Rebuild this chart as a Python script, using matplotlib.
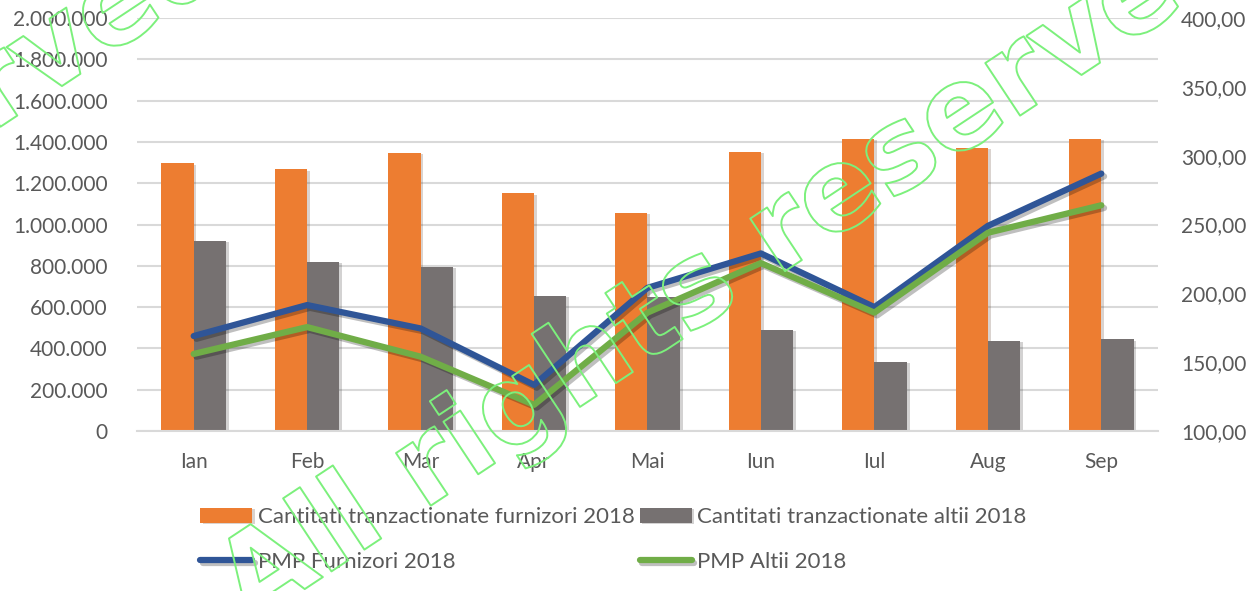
import matplotlib
matplotlib.use('Agg')
import matplotlib.pyplot as plt
import matplotlib.patheffects as pe
from matplotlib.ticker import FuncFormatter, MultipleLocator
import numpy as np

luni = ['Ian', 'Feb', 'Mar', 'Apr', 'Mai', 'Iun', 'Iul', 'Aug', 'Sep']
cant_furnizori = [1296000, 1267000, 1348000, 1151000, 1057000, 1353000, 1414000, 1372000, 1414000]
cant_altii = [920000, 820000, 796000, 655000, 648000, 489000, 336000, 436000, 444000]
pmp_furnizori = [169.0, 191.5, 174.5, 133.5, 204.0, 229.0, 190.0, 249.0, 287.0]
pmp_altii = [156.0, 175.5, 154.0, 119.0, 186.0, 222.0, 186.0, 244.0, 264.0]

plt.rcParams['font.family'] = ['Lato', 'DejaVu Sans']
txt_col = '#595959'
grid_col = '#d9d9d9'

fig = plt.figure(figsize=(12.53, 5.91), dpi=100)
ax1 = fig.add_axes([0.1093, 0.2707, 0.8149, 0.6988])
ax2 = ax1.twinx()

x = np.arange(len(luni))
w = 0.285
shadow = [pe.SimplePatchShadow(offset=(2, -1), alpha=0.2), pe.Normal()]
ax1.bar(x - w / 2, cant_furnizori, w, color='#ED7D31', zorder=2,
        label='Cantitati tranzactionate furnizori 2018', path_effects=shadow)
ax1.bar(x + w / 2, cant_altii, w, color='#767171', zorder=2,
        label='Cantitati tranzactionate altii 2018', path_effects=shadow)

lshadow = [pe.SimpleLineShadow(offset=(2, -2), alpha=0.25), pe.Normal()]
ax2.plot(x, pmp_furnizori, color='#2F5597', lw=4.5, solid_capstyle='round',
         solid_joinstyle='round', label='PMP Furnizori 2018', path_effects=lshadow)
ax2.plot(x, pmp_altii, color='#70AD47', lw=4.5, solid_capstyle='round',
         solid_joinstyle='round', label='PMP Altii 2018', path_effects=lshadow)

ax1.set_xlim(-0.5, len(luni) - 0.5)
ax1.set_ylim(0, 2000000)
ax2.set_ylim(100, 400)
ax1.yaxis.set_major_locator(MultipleLocator(200000))
ax2.yaxis.set_major_locator(MultipleLocator(50))
ax1.yaxis.set_major_formatter(FuncFormatter(lambda v, p: f"{int(v):,}".replace(',', '.')))
ax2.yaxis.set_major_formatter(FuncFormatter(lambda v, p: f"{v:.2f}".replace('.', ',')))
ax1.set_xticks(x)
ax1.set_xticklabels(luni)

ax1.grid(axis='y', color=grid_col, lw=1.5, zorder=0)
ax1.set_axisbelow(True)
for a in (ax1, ax2):
    for s in a.spines.values():
        s.set_visible(False)
ax1.spines['bottom'].set_visible(True)
ax1.spines['bottom'].set_color(grid_col)
ax1.spines['bottom'].set_linewidth(1.5)

ax1.tick_params(axis='y', length=0, pad=21, labelsize=15, labelcolor=txt_col)
ax1.tick_params(axis='x', length=0, pad=15, labelsize=15, labelcolor=txt_col)
ax2.tick_params(axis='y', length=0, pad=16.5, labelsize=15, labelcolor=txt_col)

h1, l1 = ax1.get_legend_handles_labels()
h2, l2 = ax2.get_legend_handles_labels()
handles = [h1[0], h2[0], h1[1], h2[1]]
labels = [l1[0], l2[0], l1[1], l2[1]]
fig.legend(handles, labels, ncol=2, loc='upper left', bbox_to_anchor=(0.16, 0.142),
           frameon=False, fontsize=16, labelcolor=txt_col, handlelength=2.34,
           handleheight=0.65, handletextpad=0.23, columnspacing=0.23,
           labelspacing=1.1, borderpad=0, borderaxespad=0)

# watermark
wm = dict(fontsize=83, fontweight='bold', family='DejaVu Sans', color='none',
          rotation=33.5, rotation_mode='anchor', ha='left', va='baseline',
          path_effects=[pe.Stroke(linewidth=1.4, foreground='#7CF07C')], zorder=10)
fig.text(0.1987, -0.0592, 'All rights reserved', **wm)
fig.text(-0.615, -0.078, 'All rights reserved', **wm)

fig.savefig('out.png', dpi=100)
